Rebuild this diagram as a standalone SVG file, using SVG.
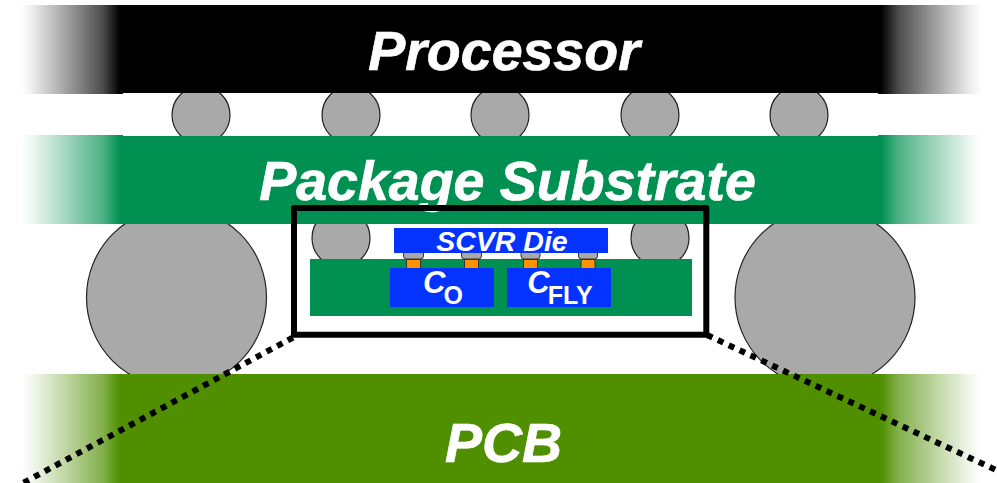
<svg xmlns="http://www.w3.org/2000/svg" width="997" height="483" viewBox="0 0 997 483">
<style>
text{font-family:"Liberation Sans",Arial,sans-serif;font-weight:bold;font-style:italic;fill:#fff;text-anchor:middle}
.ball{fill:#a9a9a9;stroke:#222;stroke-width:1.2}
.bump{fill:#a9a9a9;stroke:#333;stroke-width:1}
.pad{fill:#ff9300;stroke:#333;stroke-width:1}
.blue{fill:#0433ff}
.sub{font-style:normal;font-size:25px}
.big{font-size:55.500px;stroke:#fff;stroke-width:.7}
</style>
<defs>
<linearGradient id="kL"><stop offset="0" stop-color="#000" stop-opacity="0"/><stop offset=".1" stop-color="#000" stop-opacity=".06"/><stop offset=".5" stop-color="#000" stop-opacity=".42"/><stop offset=".8" stop-color="#000" stop-opacity=".7"/><stop offset=".97" stop-color="#000"/></linearGradient>
<linearGradient id="kR"><stop offset=".03" stop-color="#000"/><stop offset=".2" stop-color="#000" stop-opacity=".7"/><stop offset=".5" stop-color="#000" stop-opacity=".42"/><stop offset=".9" stop-color="#000" stop-opacity=".06"/><stop offset="1" stop-color="#000" stop-opacity="0"/></linearGradient>
<linearGradient id="gL"><stop offset="0" stop-color="#009051" stop-opacity="0"/><stop offset=".1" stop-color="#009051" stop-opacity=".06"/><stop offset=".5" stop-color="#009051" stop-opacity=".42"/><stop offset=".8" stop-color="#009051" stop-opacity=".7"/><stop offset=".97" stop-color="#009051"/></linearGradient>
<linearGradient id="gR"><stop offset=".03" stop-color="#009051"/><stop offset=".2" stop-color="#009051" stop-opacity=".7"/><stop offset=".5" stop-color="#009051" stop-opacity=".42"/><stop offset=".9" stop-color="#009051" stop-opacity=".06"/><stop offset="1" stop-color="#009051" stop-opacity="0"/></linearGradient>
<linearGradient id="pL"><stop offset="0" stop-color="#4f8f00" stop-opacity="0"/><stop offset=".1" stop-color="#4f8f00" stop-opacity=".06"/><stop offset=".5" stop-color="#4f8f00" stop-opacity=".42"/><stop offset=".8" stop-color="#4f8f00" stop-opacity=".7"/><stop offset=".97" stop-color="#4f8f00"/></linearGradient>
<linearGradient id="pR"><stop offset=".03" stop-color="#4f8f00"/><stop offset=".2" stop-color="#4f8f00" stop-opacity=".7"/><stop offset=".5" stop-color="#4f8f00" stop-opacity=".42"/><stop offset=".9" stop-color="#4f8f00" stop-opacity=".06"/><stop offset="1" stop-color="#4f8f00" stop-opacity="0"/></linearGradient>
</defs>
<g id="balls-large">
<circle class="ball" cx="176.500" cy="297.500" r="90"/>
<circle class="ball" cx="825" cy="297.500" r="90"/>
</g>
<g id="balls-top">
<circle class="ball" cx="201" cy="115" r="29"/>
<circle class="ball" cx="351" cy="115" r="29"/>
<circle class="ball" cx="500" cy="115" r="29"/>
<circle class="ball" cx="650" cy="115" r="29"/>
<circle class="ball" cx="799" cy="115" r="29"/>
</g>
<g id="balls-mid">
<circle class="ball" cx="341" cy="238" r="29"/>
<circle class="ball" cx="660" cy="238" r="29"/>
</g>
<g id="processor">
<rect x="21" y="5" width="102" height="89" fill="url(#kL)"/>
<rect x="122" y="5" width="756" height="88" fill="#000"/>
<rect x="878" y="5" width="104" height="89" fill="url(#kR)"/>
<text class="big" x="504" y="70">Processor</text>
</g>
<g id="package-substrate">
<rect x="21" y="135" width="102" height="89" fill="url(#gL)"/>
<rect x="122" y="136" width="756" height="88" fill="#009051"/>
<rect x="878" y="135" width="104" height="89" fill="url(#gR)"/>
<text class="big" x="507.500" y="200">Package Substrate</text>
</g>
<g id="pcb">
<rect x="21" y="374" width="102" height="109" fill="url(#pL)"/>
<rect x="122" y="374" width="756" height="109" fill="#4f8f00"/>
<rect x="878" y="374" width="104" height="109" fill="url(#pR)"/>
<text class="big" x="503.500" y="462">PCB</text>
</g>
<g id="scvr-module">
<rect x="310" y="259" width="382" height="57" fill="#009051"/>
<g id="bumps">
<rect class="bump" x="403.500" y="250" width="20" height="9" rx="3"/>
<rect class="bump" x="461.500" y="250" width="20" height="9" rx="3"/>
<rect class="bump" x="521" y="250" width="19" height="9" rx="3"/>
<rect class="bump" x="578.500" y="250" width="19" height="9" rx="3"/>
<rect class="pad" x="406.500" y="259.500" width="14" height="9"/>
<rect class="pad" x="464.500" y="259.500" width="14" height="9"/>
<rect class="pad" x="523.500" y="259.500" width="14" height="9"/>
<rect class="pad" x="581" y="259.500" width="14" height="9"/>
</g>
<g id="scvr-die">
<rect class="blue" x="394" y="228" width="214" height="25"/>
<text x="502" y="251" font-size="28.500">SCVR Die</text>
</g>
<g id="co">
<rect class="blue" x="390" y="268" width="104" height="39"/>
<text x="443" y="293" font-size="31">C<tspan class="sub" dx="-2" dy="11">O</tspan></text>
</g>
<g id="cfly">
<rect class="blue" x="507" y="268" width="104" height="39"/>
<text x="560" y="293" font-size="31">C<tspan class="sub" dx="-2" dy="11">FLY</tspan></text>
</g>
</g>
<g id="connectors" fill="none" stroke="#000">
<rect x="294" y="208" width="412.300" height="126.700" stroke-width="6" stroke-linejoin="round"/>
<path d="M293 337.500L23 483" stroke-width="6" stroke-dasharray="6 6"/>
<path d="M707 335L997 470.500" stroke-width="6" stroke-dasharray="6 6"/>
</g>
</svg>
